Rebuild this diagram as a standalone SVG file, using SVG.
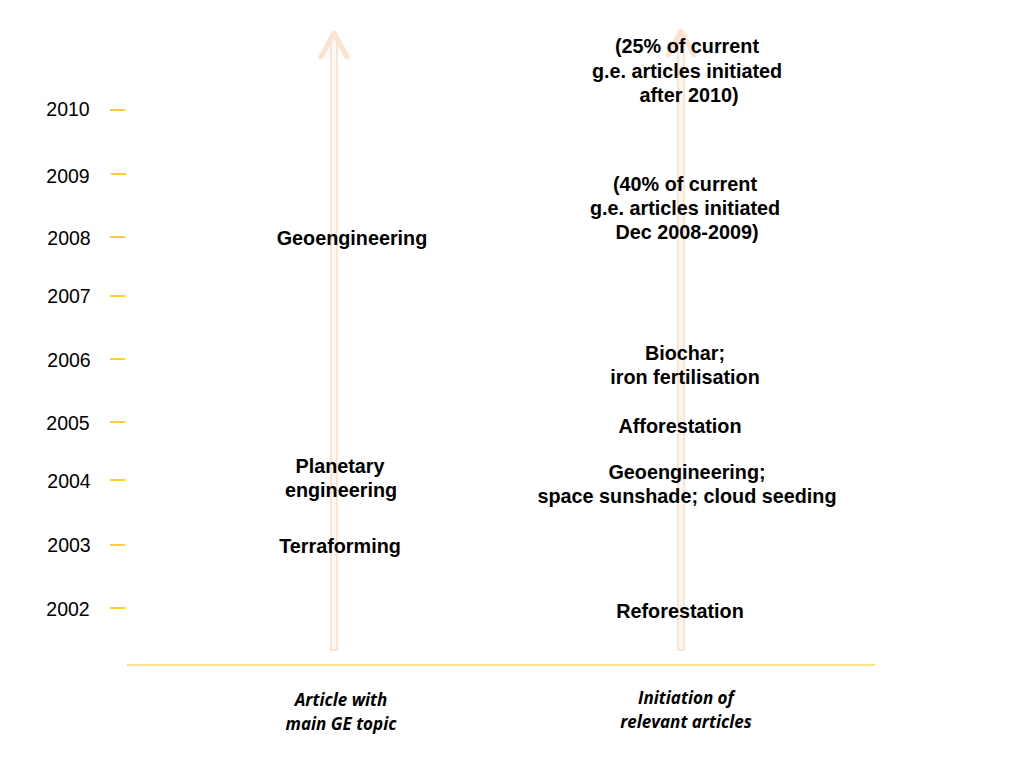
<svg xmlns="http://www.w3.org/2000/svg" width="1024" height="768" viewBox="0 0 1024 768">
<style>
.yr{font-family:"Liberation Sans",Arial,sans-serif;font-size:19.5px;fill:#000;text-anchor:middle;dominant-baseline:central}
.tick{stroke:#FFC000;stroke-width:1.6}
.lbl{font-family:"Liberation Sans",Arial,sans-serif;font-size:19.8px;font-weight:bold;fill:#000;text-anchor:middle;dominant-baseline:central}
.cap{font-family:"Open Sans","Liberation Sans",sans-serif;font-size:17px;font-weight:bold;font-style:italic;fill:#000;text-anchor:middle;dominant-baseline:central}
.shaft{fill:#FEF8F3;stroke:#F9DCC8;stroke-width:1.5}
.head{fill:none;stroke:#FCE3D0;stroke-width:5;stroke-linecap:round;stroke-linejoin:round}
</style>
<rect width="1024" height="768" fill="#fff"/>
<g id="connectors">
  <g id="arrow-left">
    <rect class="shaft" x="331" y="36" width="6" height="614"/>
    <polyline class="head" points="321,57 334,33 347,57"/>
  </g>
  <g id="arrow-right">
    <rect class="shaft" x="678" y="34" width="6" height="616"/>
    <polyline class="head" points="668,55 681,31 694,55"/>
  </g>
  <line id="baseline" x1="127" y1="665" x2="875" y2="665" stroke="#FFD966" stroke-width="1.5"/>
</g>
<g id="years">
  <g id="y2010"><text class="yr" x="68" y="109">2010</text><line class="tick" x1="110" y1="110" x2="125" y2="110"/></g>
  <g id="y2009"><text class="yr" x="68" y="176">2009</text><line class="tick" x1="111" y1="174" x2="126" y2="174"/></g>
  <g id="y2008"><text class="yr" x="69" y="238">2008</text><line class="tick" x1="110" y1="237" x2="125" y2="237"/></g>
  <g id="y2007"><text class="yr" x="69" y="296">2007</text><line class="tick" x1="110" y1="296" x2="125" y2="296"/></g>
  <g id="y2006"><text class="yr" x="69" y="360">2006</text><line class="tick" x1="110" y1="359" x2="125" y2="359"/></g>
  <g id="y2005"><text class="yr" x="68" y="423">2005</text><line class="tick" x1="110" y1="422" x2="125" y2="422"/></g>
  <g id="y2004"><text class="yr" x="69" y="481">2004</text><line class="tick" x1="110" y1="480" x2="125" y2="480"/></g>
  <g id="y2003"><text class="yr" x="69" y="545">2003</text><line class="tick" x1="110" y1="545" x2="125" y2="545"/></g>
  <g id="y2002"><text class="yr" x="68" y="609">2002</text><line class="tick" x1="110" y1="608" x2="125" y2="608"/></g>
</g>
<g id="left-geoengineering"><text class="lbl" x="352" y="238">Geoengineering</text></g>
<g id="left-planetary"><text class="lbl" x="340" y="466">Planetary</text><text class="lbl" x="341" y="490">engineering</text></g>
<g id="left-terraforming"><text class="lbl" x="340" y="546">Terraforming</text></g>
<g id="right-25"><text class="lbl" x="687" y="46">(25% of current</text><text class="lbl" x="687" y="71">g.e. articles initiated</text><text class="lbl" x="689" y="95">after 2010)</text></g>
<g id="right-40"><text class="lbl" x="685" y="184">(40% of current</text><text class="lbl" x="685" y="208">g.e. articles initiated</text><text class="lbl" x="687" y="232">Dec 2008-2009)</text></g>
<g id="right-biochar"><text class="lbl" x="685" y="353">Biochar;</text><text class="lbl" x="685" y="377">iron fertilisation</text></g>
<g id="right-afforestation"><text class="lbl" x="680" y="426">Afforestation</text></g>
<g id="right-geo"><text class="lbl" x="687" y="472">Geoengineering;</text><text class="lbl" x="687" y="496">space sunshade; cloud seeding</text></g>
<g id="right-reforestation"><text class="lbl" x="680" y="611">Reforestation</text></g>
<g id="cap-left"><text class="cap" x="341" y="699">Article with</text><text class="cap" x="341" y="723">main GE topic</text></g>
<g id="cap-right"><text class="cap" x="686" y="697">Initiation of</text><text class="cap" x="686" y="721">relevant articles</text></g>
</svg>
